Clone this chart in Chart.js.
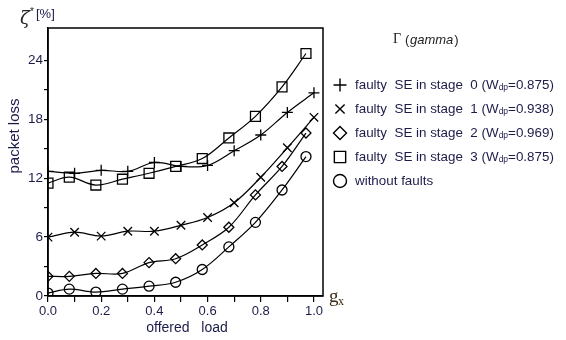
<!DOCTYPE html>
<html><head><meta charset="utf-8">
<script src="https://cdn.jsdelivr.net/npm/chart.js@4/dist/chart.umd.min.js"></script>
<style>html,body{margin:0;padding:0;background:#fff}#wrap{width:566px;height:340px}</style>
</head><body><div id="wrap"><canvas id="c" width="566" height="340"></canvas></div>
<script>
// offered load values (two sampling grids seen in the figure)
const loadGridA = [0.0, 0.1, 0.2, 0.3, 0.4, 0.5, 0.6, 0.7, 0.8, 0.9, 1.0];
const loadGridB = [0.0, 0.08, 0.18, 0.28, 0.38, 0.48, 0.58, 0.68, 0.78, 0.88, 0.97];
// packet loss [%]
const stage0 = [12.7, 12.5, 12.8, 12.7, 13.6, 13.2, 13.3, 14.8, 16.4, 18.7, 20.7];
const stage1 = [6.0, 6.5, 6.1, 6.6, 6.6, 7.2, 8.0, 9.5, 12.1, 15.1, 18.2];
const stage2 = [2.0, 2.0, 2.3, 2.3, 3.4, 3.8, 5.2, 7.0, 10.3, 13.2, 16.6];
const stage3 = [11.5, 12.1, 11.3, 11.9, 12.5, 13.2, 14.0, 16.1, 18.3, 21.3, 24.7];
const noFaults = [0.3, 0.7, 0.4, 0.7, 1.0, 1.4, 2.7, 5.0, 7.5, 10.8, 14.2];
const xTicks = [0.0, 0.1, 0.2, 0.3, 0.4, 0.5, 0.6, 0.7, 0.8, 0.9, 1.0];
const yTicks = [0, 3, 6, 9, 12, 15, 18, 21, 24];
const legendLabels = [
  ['faulty  SE in stage  0 (W', 'dp', '=0.875)'],
  ['faulty  SE in stage  1 (W', 'dp', '=0.938)'],
  ['faulty  SE in stage  2 (W', 'dp', '=0.969)'],
  ['faulty  SE in stage  3 (W', 'dp', '=0.875)'],
  ['without faults', '', '']
];
const markerStyles = ['cross', 'crossRot', 'rectRot', 'rect', 'circle'];
const markerSizes = [5.5, 6, 5, 7, 5];

const INK = '#1c1c4a';
const FONT = '"Liberation Sans", Arial, sans-serif';

function pts(xs, ys) { return ys.map((y, i) => ({x: xs[i], y: y})); }
const seriesData = [
  pts(loadGridA, stage0), pts(loadGridA, stage1), pts(loadGridB, stage2),
  pts(loadGridB, stage3), pts(loadGridB, noFaults)
];

const datasets = seriesData.map((d, i) => ({
  label: legendLabels[i].join(''),
  data: d,
  borderColor: '#000',
  borderWidth: 1.2,
  backgroundColor: 'rgba(0,0,0,0)',
  pointStyle: markerStyles[i],
  pointRadius: markerSizes[i],
  pointBorderColor: '#000',
  pointBackgroundColor: 'rgba(255,255,255,0)',
  pointBorderWidth: 1.3,
  tension: 0.35,
  fill: false
}));

const extras = {
  id: 'extras',
  afterDraw(chart) {
    const ctx = chart.ctx, a = chart.chartArea;
    ctx.save();
    ctx.strokeStyle = '#000'; ctx.lineWidth = 1.5;
    ctx.strokeRect(Math.round(a.left), Math.round(a.top), Math.round(a.right - a.left), Math.round(a.bottom - a.top));
    // y-axis unit label
    ctx.fillStyle = '#222';
    ctx.font = 'italic 18px "DejaVu Serif", serif';
    ctx.textBaseline = 'alphabetic'; ctx.textAlign = 'left';
    ctx.fillText('ζ', 20, 24);
    ctx.font = '10px ' + FONT;
    ctx.fillText('*', 30, 15);
    ctx.fillStyle = INK;
    ctx.font = '13px ' + FONT;
    ctx.fillText('[%]', 36, 18);
    // x-axis symbol
    ctx.fillStyle = '#3a2a10';
    ctx.font = '19px "Liberation Serif", serif';
    ctx.fillText('g', 329, 302);
    ctx.font = '12px "Liberation Serif", serif';
    ctx.fillText('x', 338, 305);
    // axis titles
    ctx.fillStyle = INK;
    ctx.font = '14px ' + FONT;
    ctx.textAlign = 'center'; ctx.textBaseline = 'middle';
    ctx.fillText('offered   load', 187, 328);
    ctx.save();
    ctx.translate(15, 136); ctx.rotate(-Math.PI / 2);
    ctx.font = '15px ' + FONT;
    ctx.fillText('packet loss', 0, 0);
    ctx.restore();
    // legend title
    ctx.textAlign = 'left';
    ctx.fillStyle = '#222';
    ctx.font = '14px "Liberation Serif", serif';
    ctx.fillText('Γ', 393, 39);
    ctx.font = '13px ' + FONT;
    ctx.fillText('(', 405, 40);
    ctx.font = 'italic 13px ' + FONT;
    ctx.fillText('gamma', 410, 40);
    const wG = ctx.measureText('gamma').width;
    ctx.font = '13px ' + FONT;
    ctx.fillText(')', 410 + wG + 1, 40);
    // legend rows
    const rowY = [85, 109, 133, 157, 181];
    legendLabels.forEach((lab, i) => {
      const y = rowY[i];
      ctx.strokeStyle = '#000'; ctx.fillStyle = 'rgba(0,0,0,0)'; ctx.lineWidth = 1.4;
      Chart.helpers.drawPoint(ctx, {pointStyle: markerStyles[i], radius: i === 3 ? 8 : 6.5, rotation: 0, borderWidth: 1.4}, 340, y);
      let x = 355;
      ctx.fillStyle = INK;
      ctx.font = '13.4px ' + FONT;
      ctx.textBaseline = 'middle';
      ctx.fillText(lab[0], x, y);
      x += ctx.measureText(lab[0]).width;
      if (lab[1]) {
        ctx.font = '8.5px ' + FONT;
        ctx.fillText(lab[1], x, y + 3);
        x += ctx.measureText(lab[1]).width;
        ctx.font = '13.4px ' + FONT;
        ctx.fillText(lab[2], x, y);
      }
    });
    ctx.restore();
  }
};

new Chart(document.getElementById('c'), {
  type: 'line',
  data: { datasets: datasets },
  options: {
    responsive: false,
    animation: false,
    events: [],
    layout: { padding: { left: 0, right: 243, top: 28, bottom: 0 } },
    plugins: { legend: { display: false }, tooltip: { enabled: false } },
    scales: {
      x: {
        type: 'linear', min: 0, max: 1.034,
        afterBuildTicks: s => { s.ticks = xTicks.map(v => ({value: v})); },
        afterFit: s => { s.height = 44; },
        grid: { display: true, drawOnChartArea: false, drawTicks: true, tickLength: 6, color: '#000', lineWidth: 1.2 },
        border: { display: true, color: '#000', width: 1.5 },
        ticks: {
          padding: 2, color: INK, font: { family: FONT, size: 13 }, maxRotation: 0, autoSkip: false,
          callback: v => (Math.round(v * 10) % 2 === 0 ? v.toFixed(1) : '')
        }
      },
      y: {
        type: 'linear', min: 0, max: 27.3,
        afterBuildTicks: s => { s.ticks = yTicks.map(v => ({value: v})); },
        afterFit: s => { s.width = 48; },
        grid: { display: true, drawOnChartArea: false, drawTicks: true, tickLength: 4, color: '#000', lineWidth: 1.2 },
        border: { display: true, color: '#000', width: 1.5 },
        ticks: {
          padding: 1, color: INK, font: { family: FONT, size: 13.5 }, autoSkip: false,
          callback: v => (v % 6 === 0 ? String(v) : '')
        }
      }
    }
  },
  plugins: [extras]
});
</script></body></html>
